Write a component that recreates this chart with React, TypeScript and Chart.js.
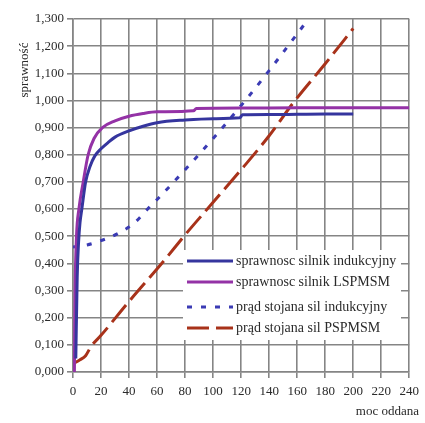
import React, { useEffect, useRef } from "react";
import { Chart, registerables } from "chart.js";

Chart.register(...registerables);

const FONT = "'Liberation Serif', 'Times New Roman', serif";

// Series labels
const labels = [
  "sprawnosc silnik indukcyjny",
  "sprawnosc silnik LSPMSM",
  "prąd stojana sil indukcyjny",
  "prąd stojana sil PSPMSM",
];

// sprawnosc silnik indukcyjny (blue solid)
const effIndX = [2, 3, 4, 5, 6.3, 9, 12, 15.5, 20, 25, 30, 40, 50, 60, 80, 100, 119, 121, 140, 160, 180, 200];
const effIndY = [0.05, 0.35, 0.48, 0.55, 0.6, 0.7, 0.755, 0.795, 0.822, 0.845, 0.865, 0.888, 0.905, 0.918, 0.928, 0.933, 0.936, 0.947, 0.948, 0.949, 0.95, 0.95];

// sprawnosc silnik LSPMSM (purple solid)
const effLspX = [1, 1.5, 2.5, 4.2, 7.3, 10.8, 15, 21, 30, 40, 50, 60, 86, 88, 120, 160, 200, 240];
const effLspY = [0.0, 0.3, 0.5, 0.6, 0.7, 0.8, 0.86, 0.9, 0.925, 0.942, 0.952, 0.958, 0.962, 0.97, 0.972, 0.973, 0.973, 0.973];

// prąd stojana sil indukcyjny (blue dashed)
const curIndX = [0, 10, 18, 32, 44, 55, 60, 80, 100, 123, 140, 160, 168];
const curIndY = [0.46, 0.468, 0.48, 0.51, 0.55, 0.61, 0.635, 0.745, 0.86, 1.0, 1.11, 1.245, 1.3];

// prąd stojana sil PSPMSM (red dashed)
const curPspX = [0, 5, 9, 13, 20, 40, 65, 80, 100, 120, 140, 157, 180, 200];
const curPspY = [0.03, 0.045, 0.06, 0.095, 0.135, 0.26, 0.41, 0.505, 0.625, 0.745, 0.87, 0.99, 1.135, 1.265];

const xMin = 0, xMax = 240, xStep = 20;
const yMin = 0, yMax = 1.3, yStep = 0.1;

const colors = ["#35359e", "#9432a6", "#3b3bb4", "#a8321a"];
const dashes: number[][] = [[], [], [5, 9], [22, 7]];

const toPts = (xs: number[], ys: number[]) => xs.map((x, i) => ({ x, y: ys[i] }));

const legendPlugin = {
  id: "boxLegend",
  afterDraw(chart: any) {
    const ctx = chart.ctx as CanvasRenderingContext2D;
    const ca = chart.chartArea;
    ctx.save();
    // legend box
    const bx = ca.left + 110, by = ca.top + 231;
    ctx.fillStyle = "#ffffff";
    ctx.fillRect(bx, by, 218, 90);
    const rowsY = [11, 32, 57, 78];
    ctx.font = "14px " + FONT;
    ctx.textBaseline = "middle";
    ctx.textAlign = "left";
    labels.forEach((lab, i) => {
      const y = by + rowsY[i];
      ctx.strokeStyle = colors[i];
      ctx.lineWidth = 3;
      ctx.setLineDash(dashes[i]);
      ctx.beginPath();
      ctx.moveTo(bx + 4, y);
      ctx.lineTo(bx + 50, y);
      ctx.stroke();
      ctx.setLineDash([]);
      ctx.fillStyle = "#2a2a2a";
      ctx.fillText(lab, bx + 53, y);
    });
    // axis titles
    ctx.fillStyle = "#2a2a2a";
    ctx.font = "13px " + FONT;
    ctx.textAlign = "right";
    ctx.textBaseline = "middle";
    ctx.fillText("moc oddana", chart.width - 6, chart.height - 11);
    ctx.translate(25, 70);
    ctx.rotate(-Math.PI / 2);
    ctx.textAlign = "center";
    ctx.fillText("sprawność", 0, 0);
    ctx.restore();
  },
};

export default function App() {
  const ref = useRef<HTMLCanvasElement | null>(null);
  useEffect(() => {
    if (!ref.current) return;
    const seriesX = [effIndX, effLspX, curIndX, curPspX];
    const seriesY = [effIndY, effLspY, curIndY, curPspY];
    const chart = new Chart(ref.current, {
      type: "line",
      data: {
        datasets: labels.map((lab, i) => ({
          label: lab,
          data: toPts(seriesX[i], seriesY[i]),
          borderColor: colors[i],
          backgroundColor: colors[i],
          borderWidth: 3,
          borderDash: dashes[i],
          pointRadius: 0,
          cubicInterpolationMode: "monotone" as const,
          fill: false,
        })),
      },
      options: {
        animation: false,
        responsive: false,
        maintainAspectRatio: false,
        layout: { padding: { left: 0, right: 12, top: 19, bottom: 0 } },
        plugins: {
          legend: { display: false },
          tooltip: { enabled: false },
        },
        scales: {
          x: {
            type: "linear",
            min: xMin,
            max: xMax,
            ticks: {
              stepSize: xStep,
              padding: 6,
              color: "#2a2a2a",
              font: { family: FONT, size: 13 },
              maxRotation: 0,
            },
            grid: { color: "#858585", lineWidth: 1.6, tickLength: 6 },
            border: { color: "#858585", width: 1.6 },
            afterFit: (s: any) => { s.height = 51; },
          },
          y: {
            type: "linear",
            min: yMin,
            max: yMax,
            ticks: {
              stepSize: yStep,
              padding: 3,
              color: "#2a2a2a",
              font: { family: FONT, size: 13 },
              callback: (v: any) => Number(v).toFixed(3).replace(".", ","),
            },
            grid: { color: "#858585", lineWidth: 1.6, tickLength: 6 },
            border: { color: "#858585", width: 1.6 },
            afterFit: (s: any) => { s.width = 73; },
          },
        },
      },
      plugins: [legendPlugin],
    });
    return () => chart.destroy();
  }, []);
  return (
    <div style={{ position: "fixed", left: 0, top: 0, width: 425, height: 423, background: "#fff" }}>
      <canvas ref={ref} width={425} height={423} style={{ display: "block" }} />
    </div>
  );
}
